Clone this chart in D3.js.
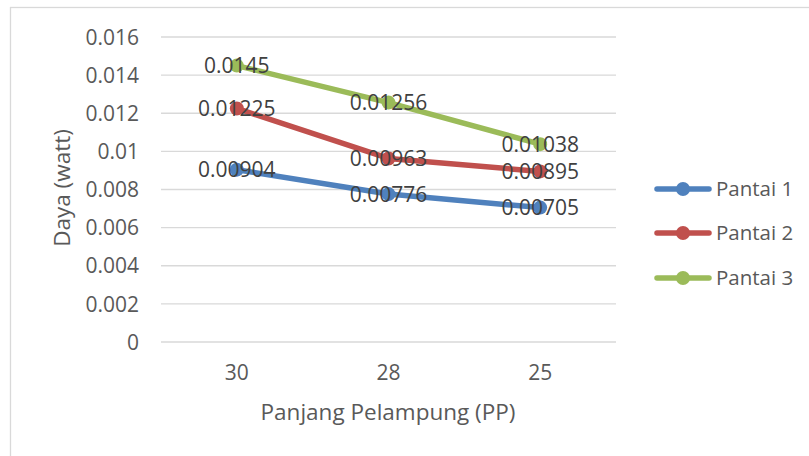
<!DOCTYPE html>
<html><head><meta charset="utf-8">
<script src="https://cdn.jsdelivr.net/npm/d3@7"></script>
<style>body{margin:0;background:#fff}svg{display:block}text{font-family:"Open Sans",sans-serif}</style>
</head><body>
<script>
const categories = ["30", "28", "25"];
const seriesNames = ["Pantai 1", "Pantai 2", "Pantai 3"];
const pantai1 = [0.00904, 0.00776, 0.00705];
const pantai2 = [0.01225, 0.00963, 0.00895];
const pantai3 = [0.0145, 0.01256, 0.01038];
const labels1 = ["0.00904", "0.00776", "0.00705"];
const labels2 = ["0.01225", "0.00963", "0.00895"];
const labels3 = ["0.0145", "0.01256", "0.01038"];
const yTicks = [0, 0.002, 0.004, 0.006, 0.008, 0.01, 0.012, 0.014, 0.016];
const colors = ["#4F81BD", "#C0504D", "#9BBB59"];
const xTitle = "Panjang Pelampung (PP)";
const yTitle = "Daya (watt)";

const series = [
  {name: seriesNames[0], values: pantai1, labels: labels1, color: colors[0]},
  {name: seriesNames[1], values: pantai2, labels: labels2, color: colors[1]},
  {name: seriesNames[2], values: pantai3, labels: labels3, color: colors[2]}
];

const W = 809, H = 456;
const svg = d3.select("body").append("svg").attr("width", W).attr("height", H);
svg.append("rect").attr("x", 10.5).attr("y", 7.5).attr("width", 820).attr("height", 460)
  .attr("fill", "#fff").attr("stroke", "#d9d9d9").attr("stroke-width", 1.3);

const x = d3.scaleBand().domain(categories).range([161, 616]);
const y = d3.scaleLinear().domain([0, 0.016]).range([342, 37]);

const grid = svg.append("g");
grid.selectAll("line").data(yTicks).join("line")
  .attr("x1", 161).attr("x2", 616)
  .attr("y1", d => y(d)).attr("y2", d => y(d))
  .attr("stroke", "#d9d9d9").attr("stroke-width", 1.3);

const yAxis = d3.axisLeft(y).tickValues(yTicks).tickSize(0).tickPadding(0)
  .tickFormat(d => d === 0 ? "0" : String(+d.toFixed(3)));
const ya = svg.append("g").attr("transform", "translate(139,0)").call(yAxis);
ya.select(".domain").remove();
ya.selectAll("text").attr("font-size", 21).attr("fill", "#595959")
  .attr("font-family", "'Open Sans',sans-serif").attr("dy", "0.34em");

const xAxis = d3.axisBottom(x).tickSize(0).tickPadding(0);
const xa = svg.append("g").attr("transform", "translate(0,373)").call(xAxis);
xa.select(".domain").remove();
xa.selectAll("text").attr("font-size", 21).attr("fill", "#595959")
  .attr("font-family", "'Open Sans',sans-serif").attr("dy", "0.34em");

svg.append("text").attr("x", 388).attr("y", 412).attr("dy", "0.34em")
  .attr("text-anchor", "middle").attr("font-size", 22.5).attr("fill", "#595959").text(xTitle);
svg.append("text").attr("transform", "translate(62,188) rotate(-90)").attr("dy", "0.34em")
  .attr("text-anchor", "middle").attr("font-size", 22.5).attr("fill", "#595959").text(yTitle);

const cx = c => x(c) + x.bandwidth() / 2;
const line = d3.line().x((d, i) => cx(categories[i])).y(d => y(d));

series.forEach(s => {
  const g = svg.append("g");
  g.append("path").attr("d", line(s.values)).attr("fill", "none")
    .attr("stroke", s.color).attr("stroke-width", 5.5).attr("stroke-linejoin", "round").attr("stroke-linecap", "round");
  g.selectAll("circle").data(s.values).join("circle")
    .attr("cx", (d, i) => cx(categories[i])).attr("cy", d => y(d)).attr("r", 7).attr("fill", s.color);
});
series.forEach(s => {
  svg.append("g").selectAll("text").data(s.values).join("text")
    .attr("x", (d, i) => cx(categories[i])).attr("y", d => y(d)).attr("dy", "0.36em")
    .attr("text-anchor", "middle").attr("font-size", 21).attr("fill", "#404040")
    .text((d, i) => s.labels[i]);
});

const legY = [189, 233, 278];
series.forEach((s, i) => {
  const g = svg.append("g").attr("transform", `translate(0,${legY[i]})`);
  g.append("line").attr("x1", 657).attr("x2", 709).attr("stroke", s.color)
    .attr("stroke-width", 5.5).attr("stroke-linecap", "round");
  g.append("circle").attr("cx", 683).attr("r", 7).attr("fill", s.color);
  g.append("text").attr("x", 716).attr("dy", "0.34em").attr("font-size", 20.5)
    .attr("fill", "#595959").text(s.name);
});
</script>
</body></html>
